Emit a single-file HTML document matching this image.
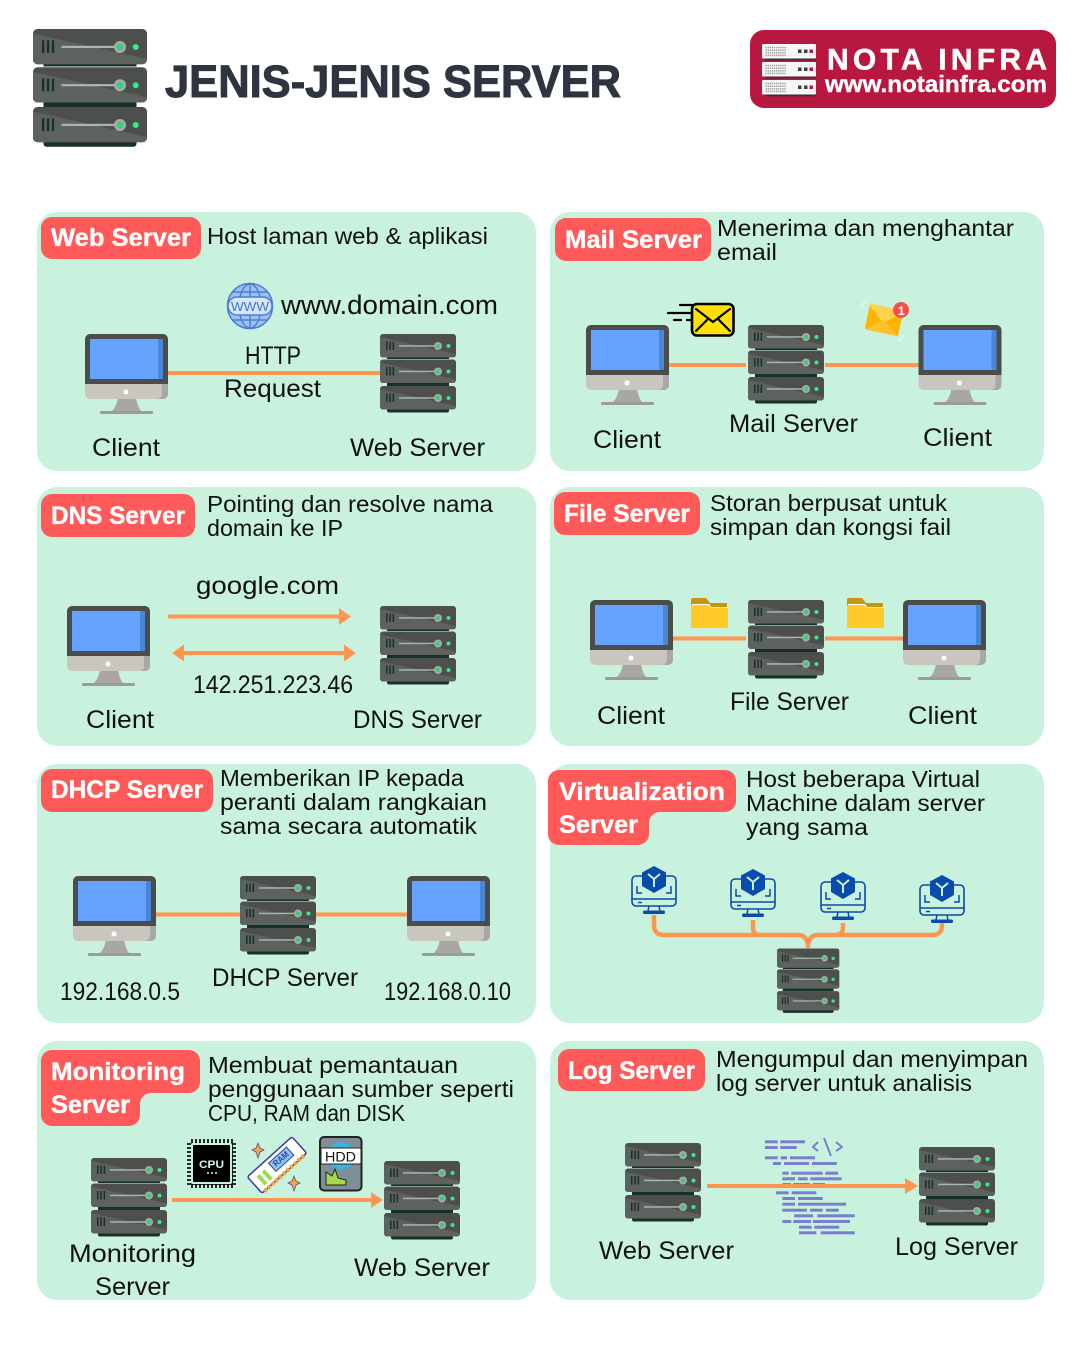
<!DOCTYPE html>
<html><head><meta charset="utf-8"><style>
html,body{margin:0;padding:0;background:#fff}
svg{display:block}
text{font-family:"Liberation Sans",sans-serif;fill:#111;font-size:25px}
.d{font-size:23.5px}
.b{font-size:25px;font-weight:bold;fill:#fff;stroke:#fff;stroke-width:.35px}
</style></head><body>
<svg width="1080" height="1350" viewBox="0 0 1080 1350" xmlns="http://www.w3.org/2000/svg">
<defs>
<g id="u">
<rect width="76" height="23.5" rx="3" fill="#4d4f4d"/>
<path d="M0 3 L76 20 V20.5 a3 3 0 0 1 -3 3 H3 a3 3 0 0 1 -3 -3Z" fill="#5d625f"/>
<path d="M6 7.5h1.5v8.5h-1.5zM9.3 7.5h1.5v8.5h-1.5zM12.6 7.5h1.5v8.5h-1.5z" fill="#16302a"/>
<rect x="19" y="11.2" width="37" height="1.5" fill="#a9b5ad"/>
<circle cx="58" cy="12" r="4" fill="#a9aaa5"/><circle cx="58" cy="12" r="2.2" fill="#2fd07e"/>
<circle cx="68.5" cy="12" r="2" fill="#3be887"/>
</g>
<g id="s">
<rect x="7" y="22" width="62" height="3" fill="#16302a"/>
<rect x="7" y="47" width="62" height="5" fill="#16302a"/>
<rect x="7" y="73" width="62" height="5.500" rx="2" fill="#16302a"/>
<use href="#u" y="0"/><use href="#u" y="25.5"/><use href="#u" y="52"/>
</g>
<g id="m">
<path d="M33 63h18q1 9 5 14H27q5-5 6-14z" fill="#a8a7a1"/>
<rect x="15" y="77" width="53" height="3" rx="1" fill="#9c9b96"/>
<path d="M0 50H83V60a5 5 0 0 1-5 5H5a5 5 0 0 1-5-5z" fill="#c9c6c0"/>
<path d="M77 50H83V60a5 5 0 0 1-5 5H72a5 5 0 0 0 5-5z" fill="#aaa8a3"/>
<path d="M0 50V5a5 5 0 0 1 5-5H78a5 5 0 0 1 5 5V50z" fill="#4a4d4c"/>
<rect x="5" y="5" width="73" height="40" fill="#66a3ff"/>
<rect x="73" y="5" width="5" height="40" fill="#4a86d6"/>
<circle cx="41" cy="58" r="2.5" fill="#fff"/>
</g>
<g id="vm" fill="none" stroke="#0a4bab">
<rect x="-22" y="10" width="44" height="30" rx="4" stroke-width="1.6"/>
<path d="M-22 33H22M-16 36.5h4M-17 20v7h5M17 20v7h-5M-5 40l-1 5M5 40l1 5" stroke-width="1.5"/>
<rect x="-11" y="44.5" width="22" height="3.5" rx="1.5" fill="#0a4bab" stroke="none"/>
<path d="M0 0L12 6.5V20L0 27L-12 20V6.5Z" fill="#0a4bab" stroke="none"/>
<path d="M-6 8L0 13L6 8M0 13V21" stroke="#c9f2de" stroke-width="2"/>
</g>
<g id="fold">
<path d="M0 9V2a2 2 0 0 1 2-2H15l4 5H36V9z" fill="#c8950e"/>
<path d="M1 6H18l2 3H1z" fill="#fff"/>
<path d="M0 7H17l3 3H36a1 1 0 0 1 1 1V29a1 1 0 0 1-1 1H1a1 1 0 0 1-1-1z" fill="#ffc926"/>
</g>
<g id="lr">
<rect width="54" height="14.5" rx="1" fill="#f6f6f4"/>
<path d="M3.5 3.5h21M3.5 6.2h21M3.5 8.9h21M3.5 11.4h21" stroke="#9a9a9a" stroke-width="1.5" stroke-dasharray="1.3 .8"/>
<rect x="36" y="5.5" width="3.5" height="3.5" fill="#3a3f4a"/><rect x="42" y="5.5" width="3.5" height="3.5" fill="#3a3f4a"/><rect x="47.5" y="5.5" width="3.5" height="3.5" fill="#b8173f"/>
<rect x="3.500" y="14.500" width="50" height="1.800" fill="#32323c"/>
</g>
</defs>

<rect width="1080" height="1350" fill="#fff"/>

<!-- header -->
<use href="#s" transform="translate(33 29) scale(1.5)"/>
<text x="165" y="97" textLength="456" lengthAdjust="spacingAndGlyphs" style="font-size:45px;font-weight:bold;fill:#2e3440;stroke:#2e3440;stroke-width:1px">JENIS-JENIS SERVER</text>
<rect x="750" y="30" width="306" height="78" rx="14" fill="#b8173f"/>
<use href="#lr" x="762" y="44"/><use href="#lr" x="762" y="62"/><use href="#lr" x="762" y="80"/>
<text x="827" y="69.500" textLength="220" lengthAdjust="spacing" style="font-size:30px;font-weight:bold;fill:#fff;stroke:#fff;stroke-width:.5px">NOTA INFRA</text>
<text x="825" y="92" textLength="222" lengthAdjust="spacingAndGlyphs" style="font-size:23px;font-weight:bold;fill:#fff;stroke:#fff;stroke-width:.4px">www.notainfra.com</text>

<!-- cards -->
<g fill="#c9f2de">
<rect x="37" y="212" width="499" height="259" rx="20"/>
<rect x="550" y="212" width="494" height="259" rx="20"/>
<rect x="37" y="487" width="499" height="259" rx="20"/>
<rect x="550" y="487" width="494" height="259" rx="20"/>
<rect x="37" y="764" width="499" height="259" rx="20"/>
<rect x="550" y="764" width="494" height="259" rx="20"/>
<rect x="37" y="1041" width="499" height="259" rx="20"/>
<rect x="550" y="1041" width="494" height="259" rx="20"/>
</g>

<!-- badges -->
<g fill="#ff5a5a">
<rect x="41" y="217" width="160" height="42" rx="11"/>
<rect x="555" y="218" width="156" height="43" rx="11"/>
<rect x="41" y="494" width="154" height="43" rx="11"/>
<rect x="554" y="492" width="146" height="43" rx="11"/>
<rect x="41" y="769" width="172" height="43" rx="11"/>
<rect x="558" y="1049" width="147" height="42" rx="11"/>
<path d="M559 770H725a11 11 0 0 1 11 11V801a11 11 0 0 1-11 11H660a11 11 0 0 0-11 11V834a11 11 0 0 1-11 11H559a11 11 0 0 1-11-11V781a11 11 0 0 1 11-11Z"/>
<path d="M52 1050H189a11 11 0 0 1 11 11V1082a11 11 0 0 1-11 11H151a11 11 0 0 0-11 11V1115a11 11 0 0 1-11 11H52a11 11 0 0 1-11-11V1061a11 11 0 0 1 11-11Z"/>
</g>
<text class="b" x="51" y="246" textLength="140" lengthAdjust="spacingAndGlyphs">Web Server</text>
<text class="b" x="565" y="248" textLength="137" lengthAdjust="spacingAndGlyphs">Mail Server</text>
<text class="b" x="51" y="524" textLength="134" lengthAdjust="spacingAndGlyphs">DNS Server</text>
<text class="b" x="564" y="522" textLength="126" lengthAdjust="spacingAndGlyphs">File Server</text>
<text class="b" x="51" y="798" textLength="152" lengthAdjust="spacingAndGlyphs">DHCP Server</text>
<text class="b" x="559" y="800" textLength="166" lengthAdjust="spacingAndGlyphs">Virtualization</text>
<text class="b" x="559" y="833" textLength="79" lengthAdjust="spacingAndGlyphs">Server</text>
<text class="b" x="51" y="1080" textLength="134" lengthAdjust="spacingAndGlyphs">Monitoring</text>
<text class="b" x="51" y="1113" textLength="79" lengthAdjust="spacingAndGlyphs">Server</text>
<text class="b" x="568" y="1079" textLength="127" lengthAdjust="spacingAndGlyphs">Log Server</text>

<!-- descriptions -->
<text class="d" x="207" y="244" textLength="281" lengthAdjust="spacingAndGlyphs">Host laman web &amp; aplikasi</text>
<text class="d" x="717" y="236" textLength="297" lengthAdjust="spacingAndGlyphs">Menerima dan menghantar</text>
<text class="d" x="717" y="260" textLength="60" lengthAdjust="spacingAndGlyphs">email</text>
<text class="d" x="207" y="512" textLength="286" lengthAdjust="spacingAndGlyphs">Pointing dan resolve nama</text>
<text class="d" x="207" y="536" textLength="136" lengthAdjust="spacingAndGlyphs">domain ke IP</text>
<text class="d" x="710" y="511" textLength="237" lengthAdjust="spacingAndGlyphs">Storan berpusat untuk</text>
<text class="d" x="710" y="535" textLength="241" lengthAdjust="spacingAndGlyphs">simpan dan kongsi fail</text>
<text class="d" x="220" y="786" textLength="244" lengthAdjust="spacingAndGlyphs">Memberikan IP kepada</text>
<text class="d" x="220" y="810" textLength="267" lengthAdjust="spacingAndGlyphs">peranti dalam rangkaian</text>
<text class="d" x="220" y="834" textLength="257" lengthAdjust="spacingAndGlyphs">sama secara automatik</text>
<text class="d" x="746" y="787" textLength="234" lengthAdjust="spacingAndGlyphs">Host beberapa Virtual</text>
<text class="d" x="746" y="811" textLength="239" lengthAdjust="spacingAndGlyphs">Machine dalam server</text>
<text class="d" x="746" y="835" textLength="122" lengthAdjust="spacingAndGlyphs">yang sama</text>
<text class="d" x="208" y="1073" textLength="250" lengthAdjust="spacingAndGlyphs">Membuat pemantauan</text>
<text class="d" x="208" y="1097" textLength="306" lengthAdjust="spacingAndGlyphs">penggunaan sumber seperti</text>
<text class="d" x="208" y="1121" textLength="197" lengthAdjust="spacingAndGlyphs">CPU, RAM dan DISK</text>
<text class="d" x="716" y="1067" textLength="312" lengthAdjust="spacingAndGlyphs">Mengumpul dan menyimpan</text>
<text class="d" x="716" y="1091" textLength="256" lengthAdjust="spacingAndGlyphs">log server untuk analisis</text>

<!-- connectors -->
<g stroke="#ff9650" stroke-width="4" fill="none">
<path d="M168 373H380"/>
<path d="M669 365H746M825 365H919"/>
<path d="M168 616.500H342"/>
<path d="M180 653H347"/>
<path d="M673 638.500H746M825 638.500H903"/>
<path d="M156 914.500H240M316 914.500H407"/>
<path d="M172 1200H374"/>
<path d="M654 915V925Q654 935 664 935H798Q808 935 808 948M753 920V928Q753 935 761 935H798M843 923V928Q843 935 835 935H818Q808 935 808 948M942 923V925Q942 935 932 935H818" stroke-width="4.500"/>
</g>
<g fill="#ff9650">
<path d="M339 608L351 616.500L339 625Z"/>
<path d="M344 644.500L356 653L344 661.500Z"/>
<path d="M184 644.500L172 653L184 661.500Z"/>
<path d="M371 1192L383 1200L371 1208Z"/>
<path d="M905 1178L918 1186L905 1194Z"/>
</g>

<!-- monitors -->
<use href="#m" x="85" y="334"/>
<use href="#m" x="586" y="325"/>
<use href="#m" x="918.500" y="325"/>
<use href="#m" x="67" y="606"/>
<use href="#m" x="590" y="600"/>
<use href="#m" x="903" y="600"/>
<use href="#m" x="73" y="876"/>
<use href="#m" x="407" y="876"/>

<!-- servers -->
<use href="#s" x="380" y="334"/>
<use href="#s" x="748" y="325"/>
<use href="#s" x="380" y="606"/>
<use href="#s" x="748" y="600"/>
<use href="#s" x="240" y="876"/>
<use href="#s" transform="translate(777 948.500) scale(.82)"/>
<use href="#s" x="91" y="1158"/>
<use href="#s" x="384" y="1161"/>
<use href="#s" x="625" y="1143"/>
<use href="#s" x="919" y="1147"/>

<!-- vm icons -->
<use href="#vm" x="654" y="866"/>
<use href="#vm" x="753" y="869"/>
<use href="#vm" x="843" y="872"/>
<use href="#vm" x="942" y="875"/>

<!-- globe -->
<circle cx="250" cy="306" r="22.500" fill="#9cc0f2" stroke="#4a7fd0" stroke-width="1.500"/>
<g fill="none" stroke="#4a7fd0" stroke-width="1.400">
<ellipse cx="250" cy="306" rx="11" ry="22"/><path d="M250 284V328M232 292H268M232 320H268"/>
</g>
<rect x="228" y="297" width="44" height="18" rx="9" fill="#d8e6fa" stroke="#4a7fd0" stroke-width="1.500"/>
<text x="231" y="311" textLength="38" lengthAdjust="spacingAndGlyphs" style="font-size:13px;fill:#3f78cc">WWW</text>

<!-- mail icons -->
<g stroke="#000" stroke-width="2.200" fill="none" stroke-linecap="round">
<path d="M680 305H692M668 313H692M674 320H681M687 320H692"/>
<rect x="692" y="304" width="41.500" height="31.500" rx="5" fill="#ffe000" stroke-width="2.600"/>
<path d="M696 309L713 322L730 309M696 331L708 319M730 331L718 319" stroke-width="2.200"/>
</g>
<g transform="translate(884 320) rotate(12)">
<rect x="-17" y="-13" width="34" height="26" rx="2" fill="#ffb400"/>
<path d="M-17 -11L0 3L17 -11V-13H-17Z" fill="#ffd24d"/>
<path d="M-17 13L0 0L17 13Z" fill="#ffc02e"/>
</g>
<path d="M861 307q2-5 6-6M904 335q-2 4-6 6" fill="none" stroke="#e6f5ee" stroke-width="1.500"/>
<circle cx="901" cy="310" r="8" fill="#f55050"/>
<text x="898" y="315" style="font-size:12px;font-weight:bold;fill:#fff">1</text>

<!-- folders -->
<use href="#fold" x="691" y="598"/>
<use href="#fold" x="847" y="598"/>

<!-- CPU -->
<g>
<path d="M192 1139v49M196 1139v49M200 1139v49M204 1139v49M208 1139v49M212 1139v49M216 1139v49M220 1139v49M224 1139v49M228 1139v49M232 1139v49M187 1144h49M187 1148h49M187 1152h49M187 1156h49M187 1160h49M187 1164h49M187 1168h49M187 1172h49M187 1176h49M187 1180h49M187 1184h49" stroke="#111" stroke-width="1.800"/>
<rect x="191" y="1143" width="41" height="41" rx="2" fill="#c9f2de"/>
<rect x="193" y="1145" width="37" height="37" rx="1" fill="#000"/>
<text x="199" y="1168" textLength="25" lengthAdjust="spacingAndGlyphs" style="font-size:11px;font-weight:bold;fill:#d8f5e6">CPU</text>
<path d="M207 1173h2M211 1173h2M215 1173h2" stroke="#d8f5e6" stroke-width="1.500"/>
</g>
<!-- RAM -->
<g transform="translate(277 1165) rotate(-42)">
<rect x="-30" y="-11" width="60" height="22" rx="2" fill="#fff" stroke="#3a3aa0" stroke-width="1.500"/>
<path d="M-27 11h54" stroke="#f0a93c" stroke-width="4" stroke-dasharray="3.500 1.500"/>
<rect x="-23" y="-5" width="4" height="12" fill="#9bdc52"/><rect x="-16" y="-5" width="4" height="12" fill="#9bdc52"/>
<rect x="-5" y="-7" width="24" height="11" fill="#8ec6f0" stroke="#3a3aa0"/>
<text x="-2" y="1" textLength="18" lengthAdjust="spacingAndGlyphs" style="font-size:9px;font-weight:bold;fill:#2f4aa0">RAM</text>
</g>
<path d="M258 1143l2 5 4 2-4 2-2 6-2-6-4-2 4-2zM294 1176l2 5 4 2-4 2-2 6-2-6-4-2 4-2z" fill="#f0a93c" stroke="#4a3fa0" stroke-width=".7"/>
<!-- HDD -->
<rect x="320" y="1137" width="41.500" height="53.500" rx="4" fill="#7f8f97" stroke="#222" stroke-width="2"/>
<circle cx="341" cy="1156" r="14" fill="#3cb2de"/>
<rect x="321" y="1148" width="40" height="16" fill="#fff" stroke="#222" stroke-width="1"/>
<text x="325" y="1161.500" textLength="31" lengthAdjust="spacingAndGlyphs" style="font-size:14px;fill:#111">HDD</text>
<path d="M326 1172L332 1176L335 1169L338 1178L346 1180V1185H326Z" fill="#a6d94a" stroke="#222" stroke-width="1"/>

<!-- code icon -->
<g fill="#7b7fcb">
<rect x="765" y="1140.300" width="12.700" height="3"/><rect x="780.300" y="1140.300" width="24.700" height="3"/>
<rect x="765" y="1146" width="12.700" height="3"/><rect x="780.300" y="1146" width="16.300" height="3"/>
<rect x="765" y="1156.300" width="12.700" height="3"/><rect x="780.700" y="1156.300" width="6.300" height="3"/><rect x="790" y="1156.300" width="25" height="3"/>
<rect x="773" y="1162" width="8" height="3"/><rect x="784" y="1162" width="25" height="3"/><rect x="812" y="1162" width="24.700" height="3"/>
<rect x="782.300" y="1171.700" width="6.300" height="3"/><rect x="791.300" y="1171.700" width="31.400" height="3"/><rect x="825.300" y="1171.700" width="12.700" height="3"/>
<rect x="782.300" y="1177.300" width="12.700" height="3"/><rect x="798" y="1177.300" width="9.700" height="3"/><rect x="810.300" y="1177.300" width="31.400" height="3"/>
<rect x="782.300" y="1183" width="8.700" height="3"/><rect x="793.300" y="1183" width="16.700" height="3"/><rect x="812.700" y="1183" width="12.300" height="3"/>
<rect x="776" y="1191.300" width="12.700" height="3"/><rect x="791.700" y="1191.300" width="24.700" height="3"/>
<rect x="782.300" y="1197" width="12.700" height="3"/><rect x="798" y="1197" width="24.700" height="3"/>
<rect x="782.300" y="1202.700" width="12.700" height="3"/><rect x="798" y="1202.700" width="48" height="3"/>
<rect x="782.300" y="1208.700" width="24.700" height="3"/><rect x="810" y="1208.700" width="12.700" height="3"/><rect x="826" y="1208.700" width="12.700" height="3"/>
<rect x="794.300" y="1214.300" width="18.700" height="3"/><rect x="817.300" y="1214.300" width="37.400" height="3"/>
<rect x="782.300" y="1220" width="9" height="3"/><rect x="793.300" y="1220" width="17.700" height="3"/><rect x="813" y="1220" width="37" height="3"/>
<rect x="799" y="1225.700" width="12.700" height="3"/><rect x="814.300" y="1225.700" width="25" height="3"/>
<rect x="799" y="1231.300" width="17.300" height="3"/><rect x="820.700" y="1231.300" width="34" height="3"/>
</g>
<path d="M818 1142L813 1147L818 1151M836 1142L842 1147L836 1151M824 1138L831 1156" fill="none" stroke="#7b7fcb" stroke-width="2"/>
<path d="M707 1186H908" stroke="#ff9650" stroke-width="4"/>

<!-- labels -->
<text x="281" y="314" textLength="217" lengthAdjust="spacingAndGlyphs" style="font-size:27px">www.domain.com</text>
<text x="245" y="364" textLength="56" lengthAdjust="spacingAndGlyphs">HTTP</text>
<text x="224" y="397" textLength="97" lengthAdjust="spacingAndGlyphs">Request</text>
<text x="92" y="456" textLength="68" lengthAdjust="spacingAndGlyphs">Client</text>
<text x="350" y="456" textLength="135" lengthAdjust="spacingAndGlyphs">Web Server</text>
<text x="593" y="448" textLength="68" lengthAdjust="spacingAndGlyphs">Client</text>
<text x="729" y="432" textLength="129" lengthAdjust="spacingAndGlyphs">Mail Server</text>
<text x="923" y="446" textLength="69" lengthAdjust="spacingAndGlyphs">Client</text>
<text x="196" y="594" textLength="143" lengthAdjust="spacingAndGlyphs">google.com</text>
<text x="193" y="693" textLength="160" lengthAdjust="spacingAndGlyphs">142.251.223.46</text>
<text x="86" y="728" textLength="68" lengthAdjust="spacingAndGlyphs">Client</text>
<text x="353" y="728" textLength="129" lengthAdjust="spacingAndGlyphs">DNS Server</text>
<text x="597" y="724" textLength="68" lengthAdjust="spacingAndGlyphs">Client</text>
<text x="730" y="710" textLength="119" lengthAdjust="spacingAndGlyphs">File Server</text>
<text x="908" y="724" textLength="69" lengthAdjust="spacingAndGlyphs">Client</text>
<text x="60" y="1000" textLength="120" lengthAdjust="spacingAndGlyphs">192.168.0.5</text>
<text x="212" y="986" textLength="146" lengthAdjust="spacingAndGlyphs">DHCP Server</text>
<text x="384" y="1000" textLength="127" lengthAdjust="spacingAndGlyphs">192.168.0.10</text>
<text x="69" y="1262" textLength="127" lengthAdjust="spacingAndGlyphs">Monitoring</text>
<text x="95" y="1295" textLength="75" lengthAdjust="spacingAndGlyphs">Server</text>
<text x="354" y="1276" textLength="136" lengthAdjust="spacingAndGlyphs">Web Server</text>
<text x="599" y="1259" textLength="135" lengthAdjust="spacingAndGlyphs">Web Server</text>
<text x="895" y="1255" textLength="123" lengthAdjust="spacingAndGlyphs">Log Server</text>
</svg>
</body></html>
